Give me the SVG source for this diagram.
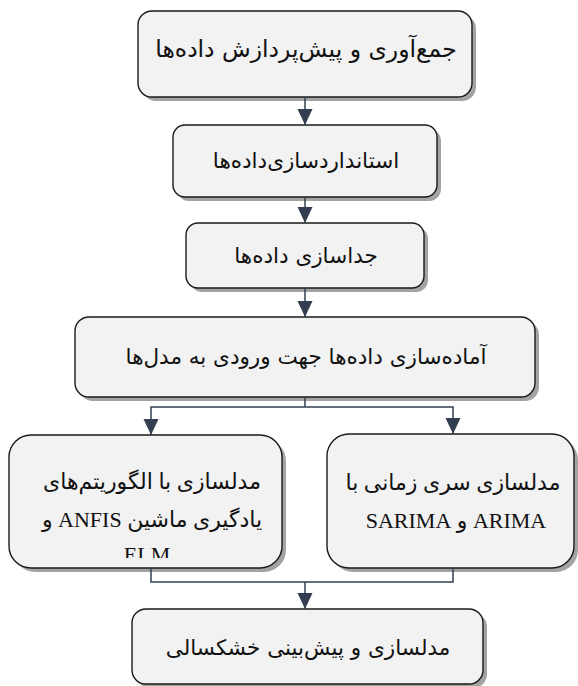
<svg xmlns="http://www.w3.org/2000/svg" width="578" height="686" viewBox="0 0 578 686">
<style>
.box{fill:#f2f2f2;stroke:#1a1a1a;stroke-width:1.4}
.sh{fill:#a3a3a3}
.t{font-family:"DejaVu Sans",sans-serif;font-size:21.5px;fill:#111;text-anchor:middle;direction:rtl}
.m{font-family:"Liberation Serif","DejaVu Sans",serif;font-size:22px;fill:#111;text-anchor:middle;direction:rtl}
.c{fill:none;stroke:#333f50;stroke-width:1.5}
</style>
<defs>
<marker id="ah" markerUnits="userSpaceOnUse" markerWidth="16" markerHeight="16" viewBox="0 0 16 16" refX="16" refY="8" orient="auto">
<path d="M0,0.5 L16,8 L0,15.5 Z" fill="#333f50"/>
</marker>
<clipPath id="clipL"><rect x="9" y="435" width="273" height="123"/></clipPath>
</defs>
<rect width="578" height="686" fill="#fff"/>
<g id="n1">
<rect class="sh" x="142" y="15" width="334" height="86" rx="14"/>
<rect class="box" x="138" y="11" width="334" height="86" rx="14"/>
<text class="t" x="306" y="57" style="font-size:23.5px">جمع‌آوری و پیش‌پردازش داده‌ها</text>
</g>
<g id="n2">
<rect class="sh" x="177" y="129" width="264" height="72" rx="12"/>
<rect class="box" x="173" y="125" width="264" height="72" rx="12"/>
<text class="t" x="306" y="168">استانداردسازی‌داده‌ها</text>
</g>
<g id="n3">
<rect class="sh" x="190" y="227" width="238" height="65" rx="12"/>
<rect class="box" x="186" y="223" width="238" height="65" rx="12"/>
<text class="t" x="306" y="263">جداسازی داده‌ها</text>
</g>
<g id="n4">
<rect class="sh" x="79" y="321" width="460" height="80" rx="14"/>
<rect class="box" x="75" y="317" width="460" height="80" rx="14"/>
<text class="t" x="306" y="364">آماده‌سازی داده‌ها جهت ورودی به مدل‌ها</text>
</g>
<g id="n5">
<rect class="sh" x="13" y="439" width="273" height="133" rx="22"/>
<rect class="box" x="9" y="435" width="273" height="133" rx="22"/>
<g clip-path="url(#clipL)">
<text class="m" x="152" y="489">مدلسازی با الگوریتم‌های</text>
<text class="m" x="152" y="527">یادگیری ماشین ANFIS و</text>
<text class="m" x="147" y="562">ELM</text>
</g>
</g>
<g id="n6">
<rect class="sh" x="331" y="438" width="247" height="134" rx="22"/>
<rect class="box" x="327" y="434" width="247" height="134" rx="22"/>
<text class="m" x="453" y="490">مدلسازی سری زمانی با</text>
<text class="m" x="456" y="528">ARIMA و SARIMA</text>
</g>
<g id="n7">
<rect class="sh" x="136" y="613" width="351" height="75" rx="14"/>
<rect class="box" x="132" y="609" width="351" height="75" rx="14"/>
<text class="t" x="308" y="655">مدلسازی و پیش‌بینی خشکسالی</text>
</g>
<g id="connectors">
<line class="c" x1="305" y1="97" x2="305" y2="125" marker-end="url(#ah)"/>
<line class="c" x1="305" y1="197" x2="305" y2="223" marker-end="url(#ah)"/>
<line class="c" x1="305" y1="288" x2="305" y2="317" marker-end="url(#ah)"/>
<polyline class="c" points="305,397 305,407"/>
<polyline class="c" points="305,407 151,407 151,435" marker-end="url(#ah)"/>
<polyline class="c" points="305,407 453,407 453,434" marker-end="url(#ah)"/>
<polyline class="c" points="151,568 151,582 453,582 453,568"/>
<line class="c" x1="305" y1="582" x2="305" y2="609" marker-end="url(#ah)"/>
</g>
</svg>
